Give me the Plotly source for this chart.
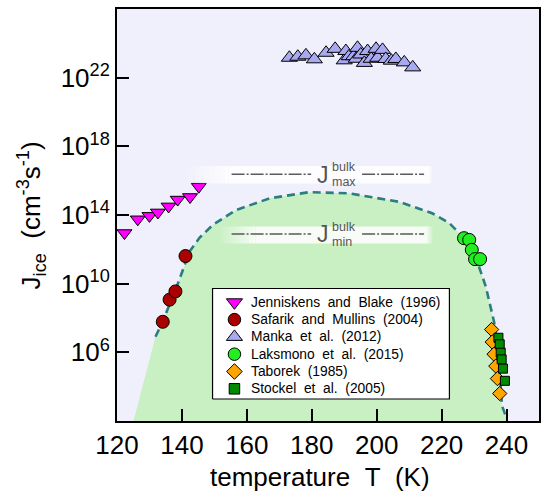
import plotly.graph_objects as go

# ---------------- data (temperature in K, log10 of J in cm^-3 s^-1) ----------------
jen_T = [122.3, 126.4, 130.0, 132.6, 135.9, 138.7, 142.5, 145.2]
jen_logJ = [12.95, 13.75, 13.95, 14.15, 14.5, 14.9, 15.05, 15.65]

saf_T = [134.1, 136.2, 138.0, 141.1]
saf_logJ = [7.78, 9.07, 9.55, 11.61]

man_T = [173.1, 175.7, 178.2, 180.8, 184.4, 187.2, 190.0, 190.5, 191.5, 192.9, 193.7, 194.1,
         195.1, 196.2, 197.2, 198.3, 199.8, 200.3, 201.8, 202.8, 204.5, 205.9, 208.5, 211.1]
man_logJ = [23.16, 23.22, 23.30, 23.07, 23.45, 23.68, 23.01, 23.55, 23.25, 23.25, 23.10, 23.74,
            23.35, 22.86, 23.55, 23.10, 23.68, 23.16, 23.62, 23.09, 22.99, 23.09, 22.89, 22.60]

lak_T = [226.9, 228.5, 229.3, 230.3, 231.85]
lak_logJ = [12.65, 12.55, 11.97, 11.43, 11.43]

tab_T = [235.4, 235.6, 236.15, 236.7, 237.2, 237.9]
tab_logJ = [7.33, 6.6, 5.89, 5.2, 4.47, 3.6]

sto_T = [237.5, 237.9, 238.2, 238.5, 238.9, 239.5]
sto_logJ = [6.85, 6.47, 5.98, 5.59, 5.05, 4.34]

curve_T = [131.85, 134.0, 136.8, 139.2, 142.3, 145.4, 149.5, 156.7, 167.0, 179.2, 191.5,
           206.9, 217.1, 222.3, 226.9, 231.5, 233.6, 235.1, 236.2, 237.4, 238.6, 239.75]
curve_logJ = [6.91, 7.76, 9.07, 10.23, 11.86, 12.67, 13.42, 14.29, 14.97, 15.33, 15.26,
              14.77, 14.10, 13.54, 12.67, 11.0, 9.84, 8.68, 7.74, 6.17, 2.89, 2.3]

# green region edge below the dashed curve
fill_T = [125.1] + curve_T + [239.9]
fill_logJ = [2.0] + curve_logJ + [2.0]

jmax_logJ = 16.38
jmin_logJ = 12.9

series_names = ["Jenniskens  and  Blake  (1996)", "Safarik  and  Mullins  (2004)",
                "Manka  et  al.  (2012)", "Laksmono  et  al.  (2015)", "Taborek  (1985)",
                "Stockel  et  al.  (2005)"]

x_ticks = [120, 140, 160, 180, 200, 220, 240]
y_tick_exp = [6, 10, 14, 18, 22]
x_range = [120, 250]
y_log_range = [2, 26]

# ---------------- figure ----------------
W, H = 542, 496
ML, MR, MT, MB = 117, 1, 9, 75
PW, PH = W - ML - MR, H - MT - MB
FONT = "Liberation Sans, Arial, sans-serif"


def px2x(px):
    return (px - ML) / PW


def px2y(py):
    return (H - MB - py) / PH


def p10(a):
    return [10.0 ** v for v in a]


def yfrac(L):
    return (L - y_log_range[0]) / (y_log_range[1] - y_log_range[0])


styles = [
    dict(symbol="triangle-down", size=13, lsize=14, color="#FF00FF"),
    dict(symbol="circle", size=13, lsize=12.5, color="#AA0000"),
    dict(symbol="triangle-up", size=14, lsize=14, color="#A9A9F2"),
    dict(symbol="circle", size=13, lsize=12.5, color="#22EE22"),
    dict(symbol="diamond", size=11, lsize=12, color="#FFA500"),
    dict(symbol="square", size=9, lsize=10.5, color="#008A00"),
]
series = [(jen_T, jen_logJ), (saf_T, saf_logJ), (man_T, man_logJ),
          (lak_T, lak_logJ), (tab_T, tab_logJ), (sto_T, sto_logJ)]

fig = go.Figure()

fig.add_trace(go.Scatter(x=fill_T, y=p10(fill_logJ), mode="lines", fill="toself",
                         fillcolor="#C8F0C2", line=dict(width=0), showlegend=False,
                         hoverinfo="skip"))
fig.add_trace(go.Scatter(x=curve_T, y=p10(curve_logJ), mode="lines",
                         line=dict(color="#2C7C82", width=2.6, dash="8px,5px"),
                         showlegend=False, hoverinfo="skip"))

for (xs, ys), st, name in zip(series, styles, series_names):
    fig.add_trace(go.Scatter(x=xs, y=p10(ys), mode="markers", name=name.replace("  ", " "),
                             showlegend=False,
                             marker=dict(symbol=st["symbol"], size=st["size"], color=st["color"],
                                         line=dict(color="black", width=1))))

# ---- manual legend (box + symbols on an overlay 0..1 axis, text as annotations) ----
bx0, bx1, by0, by1 = px2x(213), px2x(451), px2y(399), px2y(288.5)
fig.add_trace(go.Scatter(x=[bx0, bx1, bx1, bx0, bx0], y=[by0, by0, by1, by1, by0],
                         xaxis="x2", yaxis="y2", mode="lines", fill="toself",
                         fillcolor="white", line=dict(color="black", width=1.2),
                         showlegend=False, hoverinfo="skip"))
row_py = [302.3 + i * 17.3 for i in range(len(series_names))]
annotations = []
for i, (st, name) in enumerate(zip(styles, series_names)):
    fig.add_trace(go.Scatter(x=[px2x(235)], y=[px2y(row_py[i])], xaxis="x2", yaxis="y2",
                             mode="markers", showlegend=False, hoverinfo="skip",
                             marker=dict(symbol=st["symbol"], size=st["lsize"], color=st["color"],
                                         line=dict(color="black", width=1))))
    annotations.append(dict(x=px2x(250.5), y=px2y(row_py[i]), xref="paper", yref="paper",
                            text=name.replace("  ", "\u00a0\u00a0"), showarrow=False,
                            xanchor="left", yanchor="middle", borderpad=0,
                            font=dict(family=FONT, size=13.8, color="black")))

# ---- J_bulk bands ----
shapes = []


def band(x0, x1, y0, y1, fade_l, fade_r, a=0.85, n=12):
    body0 = x0 + fade_l
    body1 = x1 - fade_r
    for k in range(n):
        if fade_l > 0:
            xa = x0 + fade_l * k / n
            xb = x0 + fade_l * (k + 1) / n
            shapes.append(dict(type="rect", xref="paper", yref="paper", layer="above",
                               x0=px2x(xa), x1=px2x(xb), y0=px2y(y1), y1=px2y(y0),
                               fillcolor="white", opacity=a * (k + 0.5) / n, line=dict(width=0)))
        if fade_r > 0:
            xa = body1 + fade_r * k / n
            xb = body1 + fade_r * (k + 1) / n
            shapes.append(dict(type="rect", xref="paper", yref="paper", layer="above",
                               x0=px2x(xa), x1=px2x(xb), y0=px2y(y1), y1=px2y(y0),
                               fillcolor="white", opacity=a * (n - k - 0.5) / n, line=dict(width=0)))
    shapes.append(dict(type="rect", xref="paper", yref="paper", layer="above",
                       x0=px2x(body0), x1=px2x(body1), y0=px2y(y1), y1=px2y(y0),
                       fillcolor="white", opacity=a, line=dict(width=0)))


band(184, 435, 166, 183.5, 45, 4)
band(218, 435, 226.5, 243.5, 38, 6)

GRAY = "#555555"
for L, sub in [(jmax_logJ, "max"), (jmin_logJ, "min")]:
    yc = yfrac(L)
    for xa, xb in [(155.3, 179.8), (195.5, 214.6)]:
        shapes.append(dict(type="line", xref="x", yref="paper", layer="above",
                           x0=xa, x1=xb, y0=yc, y1=yc,
                           line=dict(color="#5A5A5A", width=1.5, dash="13px,2px,2px,2px")))
    line_py = H - MB - yc * PH
    annotations.append(dict(x=px2x(324), y=px2y(line_py + 0.5), xref="paper", yref="paper",
                            text="J", showarrow=False, xanchor="center", yanchor="middle",
                            borderpad=0, font=dict(family=FONT, size=23, color=GRAY)))
    annotations.append(dict(x=px2x(332), y=px2y(line_py - 6.8), xref="paper", yref="paper",
                            text="bulk", showarrow=False, xanchor="left", yanchor="middle",
                            borderpad=0, font=dict(family=FONT, size=12.5, color=GRAY)))
    annotations.append(dict(x=px2x(332), y=px2y(line_py + 8), xref="paper", yref="paper",
                            text=sub, showarrow=False, xanchor="left", yanchor="middle",
                            borderpad=0, font=dict(family=FONT, size=12.5, color=GRAY)))

# axis titles
annotations.append(dict(x=px2x(321), y=px2y(477), xref="paper", yref="paper",
                        text="temperature\u00a0\u00a0T\u00a0\u00a0(K)", showarrow=False,
                        xanchor="center", yanchor="middle",
                        font=dict(family=FONT, size=26, color="black")))
annotations.append(dict(x=px2x(31), y=px2y(215), xref="paper", yref="paper",
                        text="J<sub>ice</sub>\u00a0\u00a0(cm<sup>-3</sup>s<sup>-1</sup>)",
                        showarrow=False, textangle=-90, xanchor="center", yanchor="middle",
                        font=dict(family=FONT, size=26, color="black")))

axis_common = dict(showline=True, linewidth=2, linecolor="black", mirror=True,
                   ticks="inside", ticklen=12, tickwidth=2, tickcolor="black",
                   showgrid=False, zeroline=False,
                   tickfont=dict(family=FONT, size=26, color="black"))

fig.update_layout(
    width=W, height=H,
    margin=dict(l=ML, r=MR, t=MT, b=MB),
    paper_bgcolor="white", plot_bgcolor="#F0F0FC",
    showlegend=False,
    xaxis=dict(range=x_range, tickvals=x_ticks, ticktext=[str(v) for v in x_ticks], **axis_common),
    yaxis=dict(type="log", range=y_log_range, tickvals=[10.0 ** e for e in y_tick_exp],
               ticktext=["10<sup>%d</sup>" % e for e in y_tick_exp], **axis_common),
    xaxis2=dict(overlaying="x", range=[0, 1], visible=False, fixedrange=True),
    yaxis2=dict(overlaying="y", range=[0, 1], visible=False, fixedrange=True),
    shapes=shapes,
    annotations=annotations,
)

fig.write_html("out.html")
